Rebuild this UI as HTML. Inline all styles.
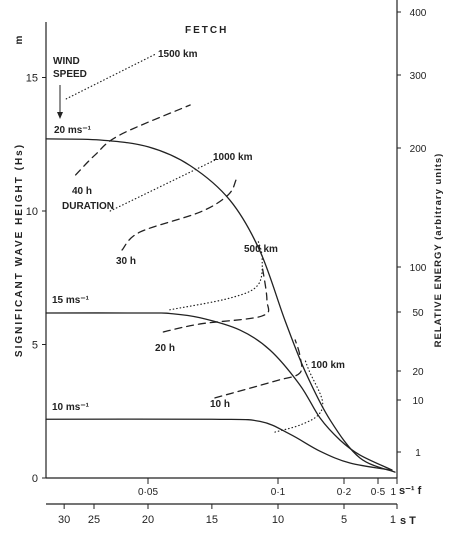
<!DOCTYPE html>
<html><head><meta charset="utf-8"><style>
body{margin:0;background:#fff;}
svg text{font-family:"Liberation Sans",sans-serif;fill:#222;}
</style></head><body>
<svg id="chart" width="461" height="531" viewBox="0 0 461 531" xmlns="http://www.w3.org/2000/svg">
<g id="axes" stroke="#222" stroke-width="1.2" fill="none">
<line x1="46" y1="22" x2="46" y2="478"/>
<line x1="397" y1="0" x2="397" y2="478"/>
<line x1="46" y1="478" x2="397" y2="478"/>
<line x1="46" y1="504" x2="397" y2="504"/>
</g>
<g id="marks"></g>
<g id="labels" font-size="10" font-weight="bold">
<text x="185" y="33" letter-spacing="2">FETCH</text>
<text x="158" y="57">1500 km</text>
<text x="53" y="64">WIND</text>
<text x="53" y="77">SPEED</text>
<text x="54" y="133">20 ms⁻¹</text>
<text x="72" y="194">40 h</text>
<text x="62" y="196" dy="13">DURATION</text>
<text x="213" y="160">1000 km</text>
<text x="116" y="264">30 h</text>
<text x="244" y="252">500 km</text>
<text x="52" y="303">15 ms⁻¹</text>
<text x="155" y="351">20 h</text>
<text x="311" y="368">100 km</text>
<text x="210" y="407">10 h</text>
<text x="52" y="410">10 ms⁻¹</text>
<text transform="translate(22,250) rotate(-90)" text-anchor="middle" letter-spacing="2">SIGNIFICANT WAVE HEIGHT (Hs)</text>
<text transform="translate(22,40) rotate(-90)" text-anchor="middle">m</text>
<text transform="translate(441,250) rotate(-90)" text-anchor="middle" font-size="9.5" letter-spacing="1">RELATIVE ENERGY (arbitrary units)</text>
<text x="399" y="494" font-size="11">s⁻¹ f</text>
<text x="400" y="524" font-size="11">s  T</text>
</g>
<line x1="60" y1="85" x2="60" y2="114" stroke="#222" stroke-width="1"/>
<polygon points="57,112 63,112 60,119" fill="#222"/>
</svg>
<script>
const hTicks=[0,5,10,15];
const eTicks=[1,10,20,50,100,200,300,400];
const eTickY=[452,400,371,312,267,148,75,12];
const fTickLabels=["0·05","0·1","0·2","0·5","1"];
const fTicks=[0.05,0.1,0.2,0.5,1];
const tTicks=[30,25,20,15,10,5,1];
// f scale breakpoints (axis calibration)
const fBreak=[0.03,0.0333,0.04,0.05,0.0667,0.1,0.2,0.5,1];
const pxBreak=[46,64,94,148,212,278,344,378,397];
const wind20F=[0.03,0.0411,0.0501,0.061,0.0758,0.0909,0.1106,0.141,0.179,0.341,0.947];
const wind20H=[12.7,12.66,12.4,11.7,10.4,8.5,5.9,4.0,2.17,0.75,0.22];
const wind15F=[0.03,0.0501,0.0557,0.0636,0.0808,0.096,0.1333,0.1636,0.194,0.341,0.868];
const wind15H=[6.18,6.18,6.16,6.0,5.54,4.79,3.48,2.25,1.42,0.86,0.3];
const wind10F=[0.03,0.0667,0.0909,0.1182,0.164,0.253,0.816];
const wind10H=[2.2,2.2,2.12,1.64,1.0,0.56,0.3];
const fetch1500F=[0.0338,0.0523],fetch1500H=[14.2,15.9];
const fetch1000F=[0.043,0.068],fetch1000H=[10.0,11.9];
const fetch500F=[0.0557,0.0758,0.0899,0.092,0.0899],fetch500H=[6.3,6.74,7.23,8.24,8.9];
const fetch100F=[0.0985,0.133,0.161,0.167,0.148,0.141],fetch100H=[1.72,1.98,2.36,2.92,3.97,4.42];
const dur40F=[0.0359,0.0402,0.0448,0.061],dur40H=[11.35,12.1,12.85,13.97];
const dur30F=[0.0452,0.0485,0.0636,0.0748,0.0788],dur30H=[8.54,9.21,9.96,10.6,11.16];
const dur20F=[0.054,0.0636,0.092,0.0944,0.092],dur20H=[5.47,5.77,6.07,6.67,7.94];
const dur10F=[0.0682,0.0985,0.133,0.133,0.126],dur10H=[3.0,3.63,3.93,4.6,5.17];

function xF(f){for(let i=0;i<fBreak.length-1;i++){if(f<=fBreak[i+1]||i==fBreak.length-2){return pxBreak[i]+(f-fBreak[i])/(fBreak[i+1]-fBreak[i])*(pxBreak[i+1]-pxBreak[i]);}}}
function yH(h){return 478-h*26.7;}
const NS="http://www.w3.org/2000/svg";
const svg=document.getElementById('chart'),marks=document.getElementById('marks');
function mk(tag,at,parent){const e=document.createElementNS(NS,tag);for(const k in at)e.setAttribute(k,at[k]);(parent||svg).appendChild(e);return e;}
function smooth(F,H){const p=F.map((f,i)=>[xF(f),yH(H[i])]);let d="M"+p[0][0]+","+p[0][1];
for(let i=0;i<p.length-1;i++){const p0=p[i-1]||p[i],p1=p[i],p2=p[i+1],p3=p[i+2]||p2;
d+=" C"+(p1[0]+(p2[0]-p0[0])/6)+","+(p1[1]+(p2[1]-p0[1])/6)+" "+(p2[0]-(p3[0]-p1[0])/6)+","+(p2[1]-(p3[1]-p1[1])/6)+" "+p2[0]+","+p2[1];}return d;}
function series(F,H,name,dash,w){const e=mk('path',{d:smooth(F,H),fill:'none',stroke:'#222','stroke-width':w,'stroke-dasharray':dash,'stroke-linecap':'round'},marks);

}
series(wind20F,wind20H,'curve-20ms','none',1.3);
series(wind15F,wind15H,'curve-15ms','none',1.3);
series(wind10F,wind10H,'curve-10ms','none',1.3);
series(fetch1500F,fetch1500H,'fetch-1500km','0.5 3',1.2);
series(fetch1000F,fetch1000H,'fetch-1000km','0.5 3',1.2);
series(fetch500F,fetch500H,'fetch-500km','0.5 3',1.2);
series(fetch100F,fetch100H,'fetch-100km','0.5 3',1.2);
series(dur40F,dur40H,'duration-40h','7 5',1.3);
series(dur30F,dur30H,'duration-30h','7 5',1.3);
series(dur20F,dur20H,'duration-20h','7 5',1.3);
series(dur10F,dur10H,'duration-10h','7 5',1.3);
hTicks.forEach(h=>{const y=yH(h);
const l=mk('line',{x1:42,x2:46,y1:y,y2:y,stroke:'#222'});


const t=mk('text',{x:38,y:y+4,'text-anchor':'end','font-size':11});t.textContent=h;

});
eTicks.forEach((v,i)=>{const y=eTickY[i];
const l=mk('line',{x1:397,x2:401,y1:y,y2:y,stroke:'#222'});


const t=mk('text',{x:418,y:y+4,'text-anchor':'middle','font-size':10});t.textContent=v;

});
fTicks.forEach((f,i)=>{const x=xF(f);
const l=mk('line',{x1:x,x2:x,y1:478,y2:484,stroke:'#222'});


const t=mk('text',{x:f==1?x-1:x,y:495,'text-anchor':f==1?'end':'middle','font-size':10});t.textContent=fTickLabels[i];

});
tTicks.forEach(T=>{const x=xF(1/T);
const l=mk('line',{x1:x,x2:x,y1:504,y2:509,stroke:'#222'});


const t=mk('text',{x:T==1?x-1:x,y:523,'text-anchor':T==1?'end':'middle','font-size':11});t.textContent=T;

});
</script>
</body></html>
